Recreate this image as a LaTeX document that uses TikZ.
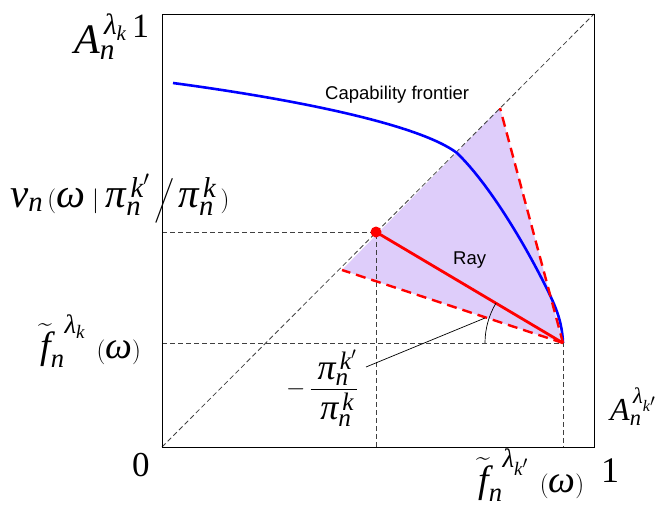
\documentclass[tikz,border=0pt]{standalone}
\usepackage{amsmath}
\usepackage[no-math]{fontspec}
\setmainfont{Liberation Serif}
\newfontfamily\sansf{Liberation Sans}
\newcommand{\mi}[1]{\text{\itshape #1}}
\definecolor{lav}{RGB}{222,205,250}
\begin{document}
\begin{tikzpicture}[x=1pt,y=-1pt,
  guide/.style={draw=black!75, line width=0.8pt, dash pattern=on 5pt off 3pt},
  reddash/.style={draw=red, line width=2.4pt, dash pattern=on 10pt off 6pt},
  lbl/.style={inner sep=0pt, font=\fontsize{#1}{#1}\selectfont},
  sans/.style={inner sep=0pt, font=\sansf\fontsize{18.5}{20}\selectfont}]
\useasboundingbox (0,0) rectangle (660,506);
% key points
\coordinate (O) at (162,447);
\coordinate (TR) at (594,14);
\coordinate (V) at (563,343);
\coordinate (T) at (500,108);
\coordinate (L) at (342,270);
\coordinate (P) at (376,232);
\coordinate (PL) at (162,232);
\coordinate (PB) at (376,447);
\coordinate (VL) at (162,343);
\coordinate (VB) at (563,447);
\coordinate (LS) at (366,367);
\coordinate (LE) at (485,318);
\coordinate (C0) at (173,83);
\coordinate (C1) at (457,153);
\coordinate (C2) at (545,285);
% fill
\fill[lav] (V) -- (T) -- (L) -- cycle;
% guides
\draw[guide] (O) -- (TR);
\draw[guide] (PL) -- (P) -- (PB);
\draw[guide] (VL) -- (V) -- (VB);
% capability frontier
\draw[blue, line width=2.6pt] (C0) .. controls (300,100) and (420,125) .. (C1)
  .. controls (490,185) and (525,245) .. (C2)
  .. controls (555,305) and (562,320) .. (V);
% red lines
\draw[reddash] (V) -- (T);
\draw[reddash] (V) -- (L);
\draw[red, line width=2.8pt] (V) -- (P);
\fill[red] (P) circle[radius=5.5pt];
% angle
\draw[black, line width=0.7pt] (485,343) arc[start angle=180, end angle=149.3, radius=78pt];
\draw[black, line width=0.7pt] (LS) -- (LE);
% box
\draw[black, line width=0.9pt] (O) rectangle (TR);
% labels
\node[lbl=42, anchor=base west] (atop) at (74,53) {$\mi{A}_{\mi{n}}^{\,\mi{λ}_{\mi{k}}}$};
\node[lbl=34, anchor=base west] (onetop) at (132,37) {1};
\node[lbl=41, anchor=base west] (nu) at (10,207) {$\mi{ν}_{\mi{n}}\,(\mi{ω}\;|\;\mi{π}_{\mi{n}}^{\,\mi{k}'}\,\Big/\,\mi{π}_{\mi{n}}^{\,\mi{k}}\,)$};
\node[lbl=38, anchor=base west] (fl) at (40,358) {$\widetilde{\mi{f}}_{\mi{n}}^{\;\;\mi{λ}_{\mi{k}}}\;\,(\mi{ω})$};
\node[lbl=35, anchor=base west] (zero) at (132,476) {0};
\node[lbl=32, anchor=base west] (aright) at (610,420) {$\mi{A}_{\mi{n}}^{\,\mi{λ}_{\mi{k}'}}$};
\node[lbl=38, anchor=base west] (fb) at (478,492) {$\widetilde{\mi{f}}_{\mi{n}}^{\;\;\mi{λ}_{\mi{k}'}}\;\,(\mi{ω})$};
\node[lbl=36, anchor=base west] (onebot) at (601,482) {1};
\node[lbl=36, anchor=center] (frac) at (322,388) {$-\,\dfrac{\;\mi{π}_{\mi{n}}^{\,\mi{k}'}}{\;\mi{π}_{\mi{n}}^{\,\mi{k}}}$};
\node[sans, anchor=base west] (cap) at (325,99) {Capability frontier};
\node[sans, anchor=base west] (ray) at (453,264) {Ray};
\end{tikzpicture}
\end{document}
